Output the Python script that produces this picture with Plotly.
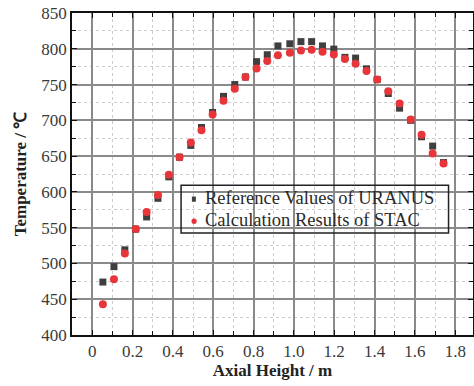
import plotly.graph_objects as go

axial_height = [0.053, 0.108, 0.162, 0.216, 0.270, 0.326, 0.380, 0.433, 0.489, 0.542,
                0.597, 0.651, 0.707, 0.760, 0.815, 0.868, 0.921, 0.980, 1.035, 1.088,
                1.142, 1.198, 1.253, 1.306, 1.360, 1.413, 1.468, 1.524, 1.579, 1.633,
                1.688, 1.742]
uranus = [474, 495.5, 519, 548, 565, 591, 621, 648.5, 665, 690,
          711, 733.5, 750, 760.5, 782, 791.7, 804, 807, 810, 810,
          804, 799.5, 788, 787, 772, 757, 737.5, 717, 700, 677,
          664, 641]
stac = [443, 478, 514, 548, 572, 595.5, 624, 648.5, 669, 686,
        708, 727.5, 744, 760.5, 772.6, 783, 791, 794.5, 797.7, 798.7,
        796, 792, 785.6, 779, 768.8, 757, 740.5, 723.4, 701, 680,
        653.6, 639.7]
series_names = ["Reference Values of URANUS", "Calculation Results of STAC"]

x_tickvals = [0, 0.2, 0.4, 0.6, 0.8, 1.0, 1.2, 1.4, 1.6, 1.8]
x_ticktext = ["0", "0.2", "0.4", "0.6", "0.8", "1.0", "1.2", "1.4", "1.6", "1.8"]
y_tickvals = [400, 450, 500, 550, 600, 650, 700, 750, 800, 850]

font_family = "Liberation Serif"
tick_font = dict(family=font_family, size=17, color="#3a3a3a")
square_color = "#3f3f3f"
circle_color = "#e8353a"

fig = go.Figure()
fig.add_trace(go.Scatter(
    x=axial_height, y=uranus, mode="markers", name=series_names[0],
    marker=dict(symbol="square", size=7, color=square_color),
))
fig.add_trace(go.Scatter(
    x=axial_height, y=stac, mode="markers", name=series_names[1],
    marker=dict(symbol="circle", size=8, color=circle_color),
))

# legend box (transparent, grid shows through as in the original)
fig.add_shape(type="rect", xref="paper", yref="paper",
              x0=0.272, x1=0.939, y0=0.317, y1=0.465,
              line=dict(color="#222222", width=1.5), fillcolor="rgba(0,0,0,0)")
# legend symbols
fig.add_shape(type="rect", xref="paper", yref="paper",
              x0=0.299, x1=0.309, y0=0.414, y1=0.430,
              line=dict(width=0), fillcolor=square_color)
fig.add_shape(type="circle", xref="paper", yref="paper",
              x0=0.298, x1=0.311, y0=0.345, y1=0.362,
              line=dict(width=0), fillcolor=circle_color)
# legend labels
for label, ypos in zip(series_names, [0.424, 0.356]):
    fig.add_annotation(xref="paper", yref="paper", x=0.327, y=ypos,
                       xanchor="left", yanchor="middle", showarrow=False,
                       text=label,
                       font=dict(family=font_family, size=18.5, color="#2a2a2a"))

fig.update_layout(
    width=474, height=386,
    margin=dict(l=72, r=1, t=13, b=51),
    paper_bgcolor="white", plot_bgcolor="white",
    font=dict(family=font_family, size=16, color="#333333"),
    showlegend=False,
    xaxis=dict(
        range=[-0.1, 1.888], automargin=False,
        tickvals=x_tickvals, ticktext=x_ticktext, tickfont=tick_font,
        showline=True, linecolor="#111111", linewidth=1.5, mirror="allticks",
        ticks="inside", ticklen=5, tickcolor="#111111",
        showgrid=True, gridcolor="#8a8a8a", gridwidth=1.5,
        zeroline=False,
        minor=dict(dtick=0.1, tick0=0, showgrid=True, gridcolor="#cccccc",
                   griddash="dot", gridwidth=1, ticks="inside", ticklen=4,
                   tickcolor="#111111"),
        title=dict(text="<b>Axial Height / m</b>", standoff=4,
                   font=dict(family=font_family, size=17, color="#222222")),
    ),
    yaxis=dict(
        range=[400, 850], automargin=False,
        tickvals=y_tickvals, tickfont=tick_font,
        showline=True, linecolor="#111111", linewidth=1.5, mirror="allticks",
        ticks="inside", ticklen=5, tickcolor="#111111",
        showgrid=True, gridcolor="#8a8a8a", gridwidth=1.5,
        zeroline=False,
        minor=dict(dtick=25, tick0=400, showgrid=True, gridcolor="#cccccc",
                   griddash="dot", gridwidth=1, ticks="inside", ticklen=4,
                   tickcolor="#111111"),
        title=dict(text="<b>Temperature / ℃</b>", standoff=10,
                   font=dict(family=font_family, size=17, color="#222222")),
    ),
)

fig.write_html(
    "out.html",
    config={"displayModeBar": False},
    post_script="document.body.style.margin='0';document.body.style.overflow='hidden';",
)
